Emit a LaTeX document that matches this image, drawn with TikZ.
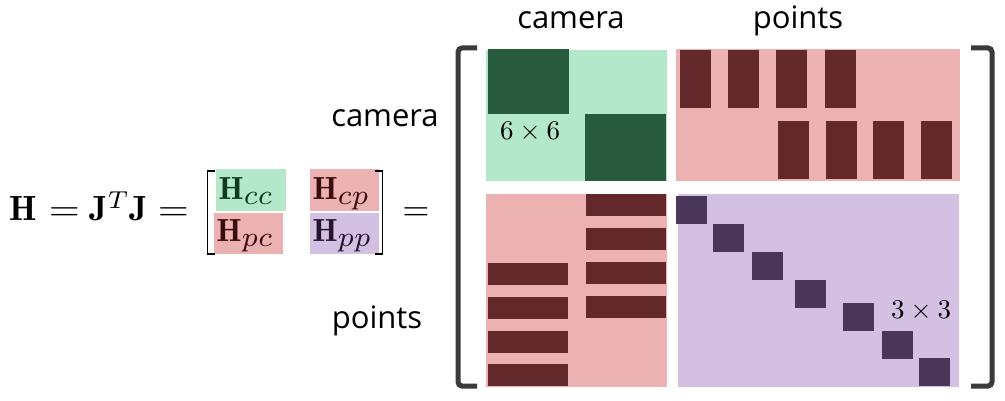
\documentclass[tikz,border=0pt]{standalone}
\usepackage{fontspec}
\newfontfamily\labfont{Open Sans}
\definecolor{lgreen}{HTML}{B3E8CB}
\definecolor{dgreen}{HTML}{285B3E}
\definecolor{lpink}{HTML}{ECB2B1}
\definecolor{dred}{HTML}{632829}
\definecolor{lpurple}{HTML}{D4C0E3}
\definecolor{dpurple}{HTML}{4A3659}
\definecolor{brk}{HTML}{3A3A3A}
\definecolor{tgreen}{HTML}{0F3A22}
\definecolor{tred}{HTML}{3A0C0C}
\definecolor{tpurple}{HTML}{24142F}
\newcommand{\sbx}[1]{\scalebox{1.25}{$\scriptstyle #1$}}
\begin{document}
\begin{tikzpicture}[x=1pt,y=-1pt,
  lab/.style={font=\labfont\fontsize{31}{31}\selectfont, inner sep=0pt, anchor=base},
  mth/.style={scale=3.5, inner sep=0pt, anchor=base west},
  meq/.style={xscale=4, yscale=3.5, inner sep=0pt, anchor=base},
  ent/.style={scale=3.2, inner sep=0pt, anchor=base west},
  dim/.style={scale=2.7, inner sep=0pt, anchor=base},
  bigbrk/.style={draw=brk, line width=5pt, rounded corners=4pt},
  smallbrk/.style={draw=black, line width=1.6pt},
]
\useasboundingbox (0,0) rectangle (1005,401);
% equation
\node[mth] (h) at (9,221) {$\mathbf{H}$};
\node[meq] (eqa) at (64.5,221) {$=$};
\node[mth] (jtj) at (89,221) {$\mathbf{J}^T\mathbf{J}$};
\node[meq] (eqb) at (173.5,221) {$=$};
\fill[lgreen] (216,169) rectangle (286,211);
\fill[lpink] (310,169) rectangle (379,211);
\fill[lpink] (214,213) rectangle (283,254);
\fill[lpurple] (310,213) rectangle (379,254);
\node[ent,text=tgreen] (hcc) at (218,200) {$\mathbf{H}_{\sbx{cc}}$};
\node[ent,text=tred] (hcp) at (312,200) {$\mathbf{H}_{\sbx{cp}}$};
\node[ent,text=tred] (hpc) at (216,242) {$\mathbf{H}_{\sbx{pc}}$};
\node[ent,text=tpurple] (hpp) at (312,242) {$\mathbf{H}_{\sbx{pp}}$};
\draw[smallbrk] (215,171) -- (207.5,171) -- (207.5,254) -- (215,254);
\draw[smallbrk] (375,171) -- (382.5,171) -- (382.5,254) -- (375,254);
\node[mth,anchor=base] (eqc) at (416,221) {$=$};
% labels
\node[lab] (ctop) at (571,29) {camera};
\node[lab] (ptop) at (798,29) {points};
\node[lab] (cside) at (385,127) {camera};
\node[lab] (pside) at (377,328) {points};
% big brackets
\draw[bigbrk] (477,48) -- (458,48) -- (458,386) -- (477,386);
\draw[bigbrk] (971,48) -- (992,48) -- (992,386) -- (971,386);
% camera-camera block
\fill[lgreen] (486,50) rectangle (667,181);
\fill[dgreen] (488,49) rectangle (569,114);
\fill[dgreen] (585,114) rectangle (666,181);
\node[dim] (d6) at (530,140) {$6\times 6$};
% camera-points block
\fill[lpink] (676,49) rectangle (960,181);
\foreach \x in {680,728,776,825} \fill[dred] (\x,50) rectangle ++(31,58);
\foreach \x in {778,826,873,921} \fill[dred] (\x,121) rectangle ++(31,58);
% points-camera block
\fill[lpink] (486,194) rectangle (667,387);
\foreach \y in {263,297,331,364} \fill[dred] (488,\y) rectangle ++(80,22);
\foreach \y in {194,228,262,296} \fill[dred] (586,\y) rectangle ++(80,22);
% points-points block
\fill[lpurple] (678,194) rectangle (959,387);
\foreach \x/\y in {676/196,713/224,752/252,795/280,843/303,882/331,919/358}
  \fill[dpurple] (\x,\y) rectangle ++(31,28);
\node[dim] (d3) at (921,318) {$3\times 3$};
\end{tikzpicture}
\end{document}
